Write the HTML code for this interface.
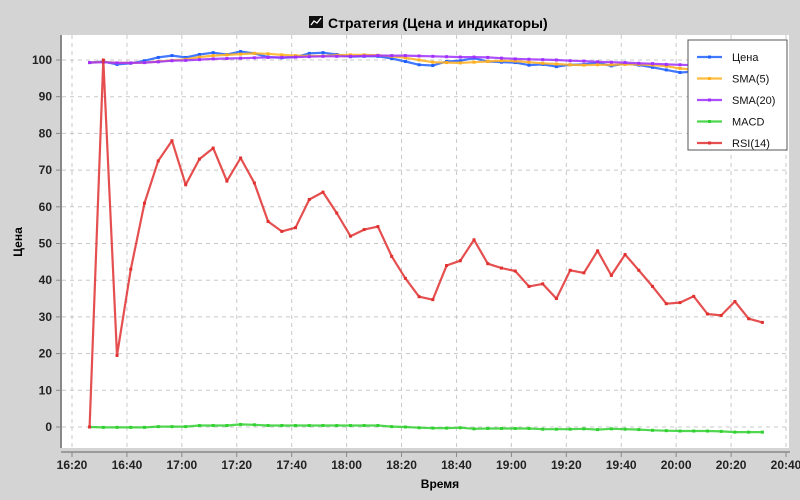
<!DOCTYPE html>
<html><head><meta charset="utf-8"><style>
body{margin:0;background:#d4d4d4;}
svg{display:block;font-family:"Liberation Sans","DejaVu Sans",sans-serif;}
</style></head><body>
<svg id="c" width="800" height="500" viewBox="0 0 800 500">
<rect x="0" y="0" width="800" height="500" fill="#d4d4d4"/>
<g>
<rect x="309" y="16" width="14" height="12" fill="#111"/>
<polyline points="311,25 314,21 317,23 321,18" fill="none" stroke="#fff" stroke-width="1.3"/>
<text x="328" y="28" font-size="14" font-weight="bold" fill="#000">Стратегия (Цена и индикаторы)</text>
</g>
<rect x="62" y="35" width="727" height="413" fill="#fff"/>
<g id="grid"></g>
<g id="series"></g>
<line x1="61" y1="35" x2="61" y2="448" stroke="#888" stroke-width="2"/>
<line x1="61" y1="452" x2="790" y2="452" stroke="#888" stroke-width="1.5"/>
<g id="axes"></g>
<text x="22" y="242" font-size="12" font-weight="bold" transform="rotate(-90 22 242)" text-anchor="middle">Цена</text>
<text x="440" y="488" font-size="12" font-weight="bold" text-anchor="middle">Время</text>
<g>
<rect x="688" y="40" width="99" height="110" fill="#fff" stroke="#555" stroke-width="1"/>
<g id="legend"></g>
</g>
</svg>
<script>
const yTicks=[0,10,20,30,40,50,60,70,80,90,100];
const xTickLabels=["16:20","16:40","17:00","17:20","17:40","18:00","18:20","18:40","19:00","19:20","19:40","20:00","20:20","20:40"];
const startMin=6.4; // minutes after 16:20 of first point
const stepMin=5;
const price=[99.3,99.6,98.8,99.1,99.8,100.7,101.2,100.7,101.5,102,101.5,102.3,101.8,100.8,100.6,100.8,101.8,102,101.5,100.9,101,101,100.4,99.6,98.7,98.5,99.6,99.8,100.5,99.6,99.4,99.3,98.6,98.8,98.2,98.7,98.8,99.3,98.4,99,98.6,98,97.3,96.6,96.8,96.5,96.2,96.4,96,95.8];
const sma5=[99.3,99.5,99.2,99.2,99.3,99.6,99.9,100.2,100.8,101.2,101.4,101.6,101.8,101.7,101.4,101.2,101.1,101.1,101.3,101.4,101.4,101.3,101.0,100.6,100.0,99.4,99.3,99.2,99.4,99.6,99.8,99.7,99.4,99.1,98.9,98.7,98.6,98.7,98.7,98.8,98.8,98.6,98.3,97.7,97.3,97,96.8,96.6,96.4,96.2];
const sma20=[99.3,99.4,99.2,99.2,99.3,99.5,99.8,99.9,100.1,100.3,100.4,100.5,100.6,100.7,100.7,100.8,100.9,101.0,101.0,101.0,101.1,101.2,101.2,101.2,101.1,101.0,100.9,100.8,100.8,100.7,100.5,100.3,100.2,100.1,100.0,99.8,99.7,99.5,99.4,99.3,99.1,99.0,98.8,98.7,98.6,98.4,98.3,98.1,98,97.9];
const macd=[0,-0.1,-0.1,-0.1,-0.1,0.1,0.1,0.1,0.4,0.4,0.4,0.7,0.6,0.4,0.4,0.4,0.4,0.4,0.4,0.4,0.4,0.4,0.1,0,-0.2,-0.3,-0.3,-0.2,-0.5,-0.4,-0.4,-0.4,-0.4,-0.6,-0.6,-0.6,-0.5,-0.7,-0.5,-0.6,-0.7,-0.9,-1.0,-1.1,-1.1,-1.1,-1.2,-1.4,-1.4,-1.4];
const rsi=[0,100,19.5,43,61,72.5,78,66,73,76,67,73.3,66.5,56,53.3,54.3,62,64,58.3,52,53.8,54.6,46.5,40.5,35.5,34.7,44,45.3,51,44.5,43.3,42.5,38.3,39,35,42.7,42,48,41.3,47,42.7,38.3,33.6,33.9,35.6,30.8,30.4,34.2,29.5,28.5];
const NS="http://www.w3.org/2000/svg";
function X(min){return 72+min*(714/260);}
function Y(v){return 427-v*3.67;}
function mk(tag,at,parent){const e=document.createElementNS(NS,tag);for(const k in at)e.setAttribute(k,at[k]);parent.appendChild(e);return e;}
const grid=document.getElementById('grid'),axes=document.getElementById('axes'),ser=document.getElementById('series'),leg=document.getElementById('legend');
yTicks.forEach(v=>{
 const l=mk('line',{x1:62,x2:789,y1:Y(v),y2:Y(v),stroke:'#c8c8c8','stroke-dasharray':'4,4'},grid);
 
 
 mk('line',{x1:56,x2:61,y1:Y(v),y2:Y(v),stroke:'#888'},axes);
 const t=mk('text',{x:52,y:Y(v)+4,'font-size':12,'font-weight':'bold','text-anchor':'end',fill:'#222'},axes);
 t.textContent=v;
 
 
});
xTickLabels.forEach((s,i)=>{
 const x=X(i*20);
 const l=mk('line',{x1:x,x2:x,y1:35,y2:448,stroke:'#c8c8c8','stroke-dasharray':'4,4'},grid);
 
 
 mk('line',{x1:x,x2:x,y1:452,y2:457,stroke:'#888'},axes);
 const t=mk('text',{x:x,y:469,'font-size':12,'font-weight':'bold','text-anchor':'middle',fill:'#222'},axes);
 t.textContent=s;
 
 
});
const defs=[["Цена",price,"#2060ff","price-series"],["SMA(5)",sma5,"#ffb020","sma5-series"],["SMA(20)",sma20,"#a030ff","sma20-series"],["MACD",macd,"#30d030","macd-series"],["RSI(14)",rsi,"#e03030","rsi-series"]];
defs.forEach(([name,data,col,dn])=>{
 const g=mk('g',{},ser);
 
 
 const pts=data.map((v,i)=>X(startMin+i*stepMin).toFixed(1)+','+Y(v).toFixed(1)).join(' ');
 mk('polyline',{points:pts,fill:'none',stroke:col,'stroke-width':2.2,'stroke-opacity':0.85,'stroke-linejoin':'round'},g);
 data.forEach((v,i)=>{const r=mk('rect',{x:X(startMin+i*stepMin)-1.5,y:Y(v)-1.5,width:3,height:3,fill:col},g);
  
  });
});
defs.forEach(([name,data,col],i)=>{
 const y=57+i*21.5;
 mk('line',{x1:697,x2:722,y1:y,y2:y,stroke:col,'stroke-width':2.2,'stroke-opacity':0.85},leg);
 mk('rect',{x:708,y:y-1.5,width:3,height:3,fill:col},leg);
 const t=mk('text',{x:732,y:y+4,'font-size':11,fill:'#111'},leg);
 t.textContent=name;
 
 
});
</script>
</body></html>
